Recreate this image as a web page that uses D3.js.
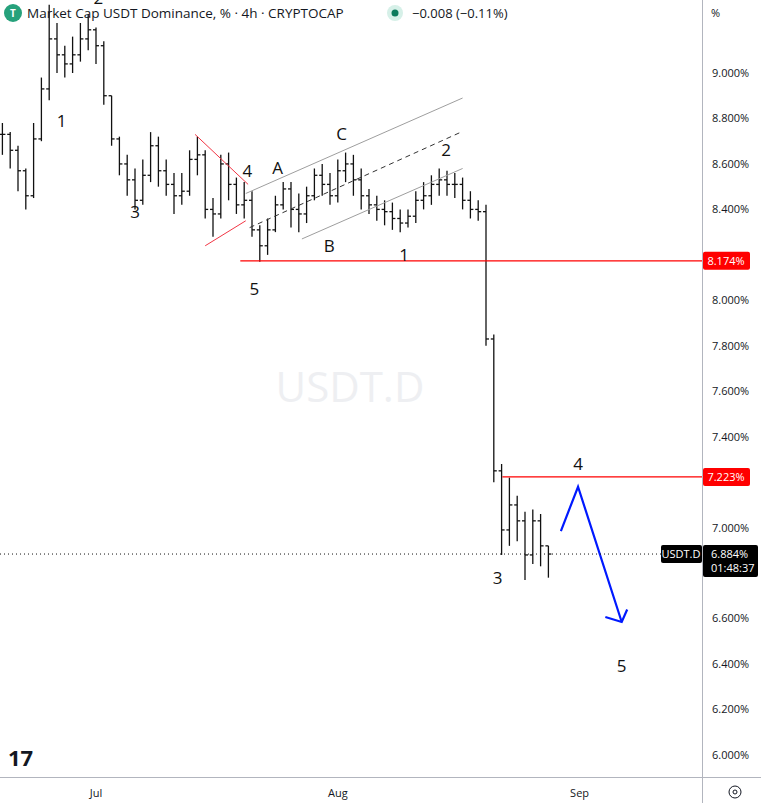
<!DOCTYPE html><html><head><meta charset="utf-8"><script src="https://cdn.jsdelivr.net/npm/d3@7"></script>
<style>body{margin:0;background:#fff}svg{display:block;font-family:"Open Sans","DejaVu Sans",sans-serif}</style></head><body><svg id="c" width="761" height="803"></svg>
<script>
// daily bars, day 0 = Jun 19
const closes=[8.73,8.66,8.57,8.46,8.71,8.93,9.15,9.08,9.04,9.08,9.15,9.19,9.12,8.90,8.71,8.60,8.53,8.44,8.55,8.68,8.57,8.51,8.46,8.48,8.62,8.64,8.40,8.38,8.60,8.51,8.42,8.44,8.31,8.24,8.31,8.42,8.49,8.40,8.38,8.46,8.55,8.51,8.46,8.57,8.60,8.53,8.46,8.42,8.40,8.39,8.36,8.34,8.37,8.44,8.46,8.51,8.53,8.51,8.51,8.44,8.40,8.39,7.83,7.25,6.99,7.10,7.03,6.88,7.03,6.92,6.884];
const highs=[8.78,8.74,8.68,8.58,8.78,8.98,9.30,9.22,9.12,9.16,9.22,9.26,9.20,9.14,8.90,8.72,8.64,8.58,8.62,8.74,8.72,8.62,8.56,8.56,8.66,8.72,8.66,8.45,8.64,8.65,8.54,8.52,8.48,8.33,8.36,8.46,8.52,8.52,8.47,8.50,8.58,8.60,8.56,8.62,8.65,8.64,8.58,8.49,8.46,8.44,8.43,8.40,8.40,8.48,8.52,8.55,8.58,8.57,8.56,8.54,8.48,8.44,8.42,7.85,7.28,7.22,7.14,7.07,7.08,7.06,6.92];
const lows=[8.64,8.58,8.48,8.40,8.45,8.70,8.88,9.00,8.98,9.00,9.05,9.10,9.04,8.86,8.68,8.55,8.46,8.40,8.42,8.52,8.50,8.46,8.38,8.42,8.46,8.55,8.36,8.28,8.36,8.44,8.38,8.36,8.28,8.17,8.20,8.30,8.40,8.32,8.30,8.34,8.44,8.46,8.42,8.43,8.52,8.46,8.40,8.38,8.35,8.33,8.31,8.30,8.32,8.34,8.40,8.42,8.46,8.46,8.45,8.40,8.36,8.35,7.80,7.20,6.88,6.92,6.94,6.77,6.84,6.83,6.78];
const yTicks=[9.0,8.8,8.6,8.4,8.0,7.8,7.6,7.4,7.0,6.6,6.4,6.2,6.0];
const monthLabels=["Jul","Aug","Sep"], monthDays=[12,43,74];
const waveLabels=["1","2","3","4","5","A","B","C","2","1","3","4","5"];
const waveDays=[7.6,12.3,17.0,31.4,32.3,35.3,41.9,43.5,56.9,51.5,63.5,73.8,79.4];
const waveVals=[8.79,9.33,8.39,8.57,8.05,8.58,8.24,8.73,8.66,8.20,6.78,7.28,6.39];
const redLines=[[[24.7,8.73],[31.5,8.51]],[[26.0,8.24],[31.2,8.35]]];
const chanUpper=[[31.2,8.47],[59.0,8.89]], chanMid=[[31.7,8.32],[58.8,8.74]], chanLower=[[38.4,8.27],[59.0,8.58]];
const levels=[{v:8.174,from:30.5},{v:7.223,from:64.1}];
const bluePath=[[71.6,6.985],[73.8,7.18],[79.4,6.585]], blueHead=[[77.3,6.607],[79.4,6.585],[80.1,6.64]];
const lastPrice=6.884;

const svg=d3.select("#c");
const x=d3.scaleLinear().domain([0,74]).range([2.4,579.6]);
const y=d3.scaleLinear().domain([6,9]).range([755,73]);
const AX=702, BOT=777;
const g=svg.append("g");
g.append("text").attr("x",350).attr("y",402).attr("text-anchor","middle").attr("font-size",42).attr("fill","#eeeff2").text("USDT.D");
const ln=d3.line().x(d=>x(d[0])).y(d=>y(d[1]));
closes.forEach((c,i)=>{const o=i?closes[i-1]:c;const cx=x(i);
 g.append("line").attr("x1",cx).attr("x2",cx).attr("y1",y(highs[i])).attr("y2",y(lows[i])).attr("stroke","#111").attr("stroke-width",1.3);
 g.append("line").attr("x1",cx-3).attr("x2",cx).attr("y1",y(o)).attr("y2",y(o)).attr("stroke","#111").attr("stroke-width",1.3);
 g.append("line").attr("x1",cx).attr("x2",cx+3).attr("y1",y(c)).attr("y2",y(c)).attr("stroke","#111").attr("stroke-width",1.3);
});
redLines.forEach(l=>g.append("path").attr("d",ln(l)).attr("stroke","#f23645").attr("fill","none"));
g.append("path").attr("d",ln(chanUpper)).attr("stroke","#9e9e9e").attr("fill","none");
g.append("path").attr("d",ln(chanLower)).attr("stroke","#9e9e9e").attr("fill","none");
g.append("path").attr("d",ln(chanMid)).attr("stroke","#333").attr("stroke-dasharray","5,4").attr("fill","none");
levels.forEach(l=>{g.append("line").attr("x1",x(l.from)).attr("x2",AX).attr("y1",y(l.v)).attr("y2",y(l.v)).attr("stroke","#f00").attr("stroke-width",1.2);});
g.append("path").attr("d",ln(bluePath)).attr("stroke","#0019ff").attr("stroke-width",2.2).attr("fill","none");
g.append("path").attr("d",ln(blueHead)).attr("stroke","#0019ff").attr("stroke-width",2.2).attr("fill","none");
g.append("line").attr("x1",0).attr("x2",AX).attr("y1",y(lastPrice)).attr("y2",y(lastPrice)).attr("stroke","#111").attr("stroke-dasharray","1,3");
waveLabels.forEach((t,i)=>g.append("text").attr("x",x(waveDays[i])).attr("y",y(waveVals[i])).attr("dy","0.35em").attr("text-anchor","middle").attr("font-size",17).attr("fill","#111").text(t));
svg.append("rect").attr("x",AX).attr("y",0).attr("width",59).attr("height",803).attr("fill","#fff");
svg.append("rect").attr("x",0).attr("y",BOT).attr("width",761).attr("height",26).attr("fill","#fff");
svg.append("line").attr("x1",AX+0.5).attr("x2",AX+0.5).attr("y1",0).attr("y2",803).attr("stroke","#b2b5be");
svg.append("line").attr("x1",0).attr("x2",761).attr("y1",BOT+0.5).attr("y2",BOT+0.5).attr("stroke","#b2b5be");
yTicks.forEach(v=>svg.append("text").attr("x",712).attr("y",y(v)).attr("dy","0.35em").attr("font-size",11).attr("fill","#131722").text(v.toFixed(3)+"%"));
svg.append("text").attr("x",711).attr("y",17).attr("font-size",11).attr("fill","#131722").text("%");
monthLabels.forEach((m,i)=>svg.append("text").attr("x",x(monthDays[i])).attr("y",797).attr("text-anchor","middle").attr("font-size",11).attr("fill","#131722").text(m));
levels.forEach(l=>{svg.append("rect").attr("x",703).attr("y",y(l.v)-9).attr("width",47).attr("height",18).attr("rx",2).attr("fill","#f00");
 svg.append("text").attr("x",726).attr("y",y(l.v)).attr("dy","0.35em").attr("text-anchor","middle").attr("font-size",11).attr("fill","#fff").text(l.v.toFixed(3)+"%");});
const py=y(lastPrice);
svg.append("rect").attr("x",661).attr("y",py-9).attr("width",41).attr("height",18).attr("rx",2).attr("fill","#000");
svg.append("text").attr("x",681).attr("y",py).attr("dy","0.35em").attr("text-anchor","middle").attr("font-size",11).attr("fill","#fff").text("USDT.D");
svg.append("rect").attr("x",703).attr("y",py-9).attr("width",55).attr("height",32).attr("rx",2).attr("fill","#000");
svg.append("text").attr("x",711).attr("y",py).attr("dy","0.35em").attr("font-size",11).attr("fill","#fff").text(lastPrice.toFixed(3)+"%");
svg.append("text").attr("x",711).attr("y",py+14).attr("dy","0.35em").attr("font-size",11).attr("fill","#fff").text("01:48:37");
svg.append("circle").attr("cx",13).attr("cy",13).attr("r",9).attr("fill","#26a17b");
svg.append("text").attr("x",13).attr("y",13).attr("dy","0.35em").attr("text-anchor","middle").attr("font-size",10).attr("fill","#fff").attr("font-weight","bold").text("T");
svg.append("text").attr("x",27).attr("y",13).attr("dy","0.35em").attr("font-size",13.5).attr("fill","#131722").text("Market Cap USDT Dominance, % · 4h · CRYPTOCAP");
svg.append("circle").attr("cx",395).attr("cy",13).attr("r",8).attr("fill","#d6f0e8");
svg.append("circle").attr("cx",395).attr("cy",13).attr("r",3.5).attr("fill","#0b7a5c");
svg.append("text").attr("x",412).attr("y",13).attr("dy","0.35em").attr("font-size",13).attr("fill","#131722").text("−0.008 (−0.11%)");
svg.append("text").attr("x",8).attr("y",766).attr("font-size",22).attr("font-weight","bold").attr("fill","#131722").text("17");
svg.append("circle").attr("cx",735).attr("cy",792).attr("r",6).attr("fill","none").attr("stroke","#131722");
svg.append("circle").attr("cx",735).attr("cy",792).attr("r",2).attr("fill","none").attr("stroke","#131722");
</script></body></html>
